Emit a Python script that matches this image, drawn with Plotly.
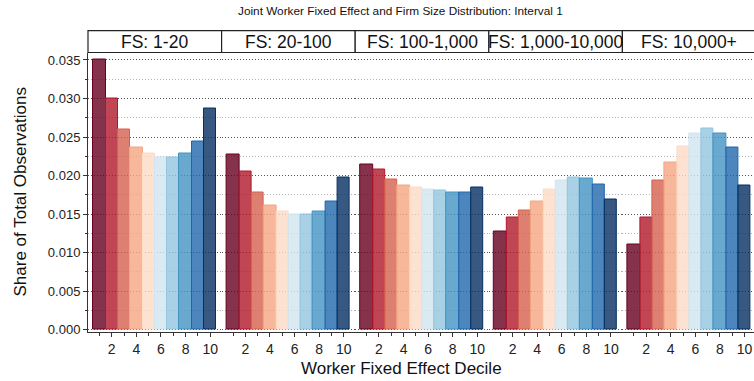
import plotly.graph_objects as go

# Firm-size bins shown as facets
panels = ["FS: 1-20", "FS: 20-100", "FS: 100-1,000", "FS: 1,000-10,000", "FS: 10,000+"]
deciles = [1, 2, 3, 4, 5, 6, 7, 8, 9, 10]

# Share of total observations by worker fixed-effect decile, per firm-size bin
share_fs_1_20 = [0.0351, 0.0300, 0.0260, 0.0237, 0.0228, 0.0224, 0.0224, 0.0229, 0.0244, 0.0287]
share_fs_20_100 = [0.0227, 0.0205, 0.0178, 0.0161, 0.0154, 0.0150, 0.0150, 0.0154, 0.0166, 0.0197]
share_fs_100_1k = [0.0214, 0.0208, 0.0195, 0.0187, 0.0185, 0.0182, 0.0180, 0.0178, 0.0178, 0.0185]
share_fs_1k_10k = [0.0127, 0.0145, 0.0155, 0.0167, 0.0182, 0.0193, 0.0197, 0.0196, 0.0188, 0.0169]
share_fs_10k = [0.0110, 0.0146, 0.0194, 0.0217, 0.0238, 0.0255, 0.0261, 0.0255, 0.0236, 0.0187]
series = [share_fs_1_20, share_fs_20_100, share_fs_100_1k, share_fs_1k_10k, share_fs_10k]

# RdBu diverging palette, one colour per decile
rdbu = ["#67001f", "#b2182b", "#d6604d", "#f4a582", "#fddbc7",
        "#d1e5f0", "#92c5de", "#4393c3", "#2166ac", "#053061"]


def rgba(hex_color, alpha):
    h = hex_color.lstrip("#")
    r, g, b = int(h[0:2], 16), int(h[2:4], 16), int(h[4:6], 16)
    return f"rgba({r},{g},{b},{alpha})"


W, H = 754, 381
FONT = "Liberation Sans, Arial, sans-serif"

# Panel geometry (pixels)
left_px = 88.0
panel_w = 133.6
top_px = 52.5
bottom_px = 332.0
strip_top_px = 30.7
x_lo, x_hi = 0.07, 10.93
y_range = [-0.0003, 0.03597]

fig = go.Figure()
layout = dict(
    width=W, height=H,
    margin=dict(l=0, r=0, t=0, b=0, autoexpand=False),
    paper_bgcolor="white", plot_bgcolor="white",
    showlegend=False, bargap=0,
    font=dict(family=FONT, color="#222222"),
)

ydom = [1 - bottom_px / H, 1 - top_px / H]
shapes = []
annotations = []

for i, (name, vals) in enumerate(zip(panels, series)):
    x0 = left_px + i * panel_w
    x1 = x0 + panel_w
    hi = x_hi
    if x1 > W:
        # last facet runs past the right edge of the canvas
        hi = x_lo + (W - x0) / panel_w * (x_hi - x_lo)
        x1 = W
    ax = "x" if i == 0 else f"x{i + 1}"
    axkey = "xaxis" if i == 0 else f"xaxis{i + 1}"

    fig.add_trace(go.Bar(
        x=deciles, y=vals, xaxis=ax, yaxis="y", width=1,
        marker=dict(color=[rgba(c, 0.8) for c in rdbu],
                    line=dict(color=rdbu, width=1)),
        hoverinfo="skip",
    ))

    layout[axkey] = dict(
        domain=[x0 / W, x1 / W], range=[x_lo, hi], anchor="y",
        showgrid=False, zeroline=False,
        showline=True, linecolor="#333333", linewidth=1,
        tickmode="linear", tick0=0, dtick=2,
        ticks="outside", ticklen=4, tickcolor="#333333",
        tickfont=dict(size=14, color="#222222", family=FONT),
        minor=dict(dtick=1, tick0=0, ticks="outside", ticklen=3, tickcolor="#333333"),
    )

    # facet strip
    sx0 = left_px + i * panel_w
    shapes.append(dict(type="rect", xref="paper", yref="paper",
                       x0=sx0 / W, x1=(sx0 + panel_w) / W,
                       y0=1 - top_px / H, y1=1 - strip_top_px / H,
                       line=dict(color="#222222", width=1.2), fillcolor="white",
                       layer="above"))
    annotations.append(dict(text=name, xref="paper", yref="paper",
                            x=(sx0 + panel_w / 2) / W,
                            y=1 - (top_px + strip_top_px) / 2 / H,
                            showarrow=False, xanchor="center", yanchor="middle",
                            font=dict(size=17.5, color="#111111", family=FONT)))

layout["yaxis"] = dict(
    domain=ydom, range=y_range, anchor="x",
    showline=True, linecolor="#333333", linewidth=1,
    zeroline=False,
    tickmode="linear", tick0=0, dtick=0.005, tickformat=".3f",
    ticks="outside", ticklen=4, tickcolor="#333333",
    tickfont=dict(size=13, color="#222222", family=FONT),
    showgrid=True, gridcolor="#555555", gridwidth=1, griddash="1px,2px",
    minor=dict(dtick=0.0025, tick0=0, ticks="outside", ticklen=2.5, tickcolor="#333333",
               showgrid=True, gridcolor="#b5b5b5", gridwidth=1, griddash="1px,2px"),
)

annotations.append(dict(text="Joint Worker Fixed Effect and Firm Size Distribution: Interval 1",
                        xref="paper", yref="paper", x=400 / W, y=1 - 11 / H,
                        showarrow=False, xanchor="center", yanchor="middle",
                        font=dict(size=11.8, color="#111111", family=FONT)))
annotations.append(dict(text="Worker Fixed Effect Decile",
                        xref="paper", yref="paper", x=401 / W, y=1 - 368 / H,
                        showarrow=False, xanchor="center", yanchor="middle",
                        font=dict(size=17, color="#111111", family=FONT)))
annotations.append(dict(text="Share of Total Observations",
                        xref="paper", yref="paper", x=19.5 / W, y=1 - 192 / H,
                        showarrow=False, xanchor="center", yanchor="middle", textangle=-90,
                        font=dict(size=17, color="#111111", family=FONT)))

layout["shapes"] = shapes
layout["annotations"] = annotations
fig.update_layout(**layout)

fig.write_html("out.html")
